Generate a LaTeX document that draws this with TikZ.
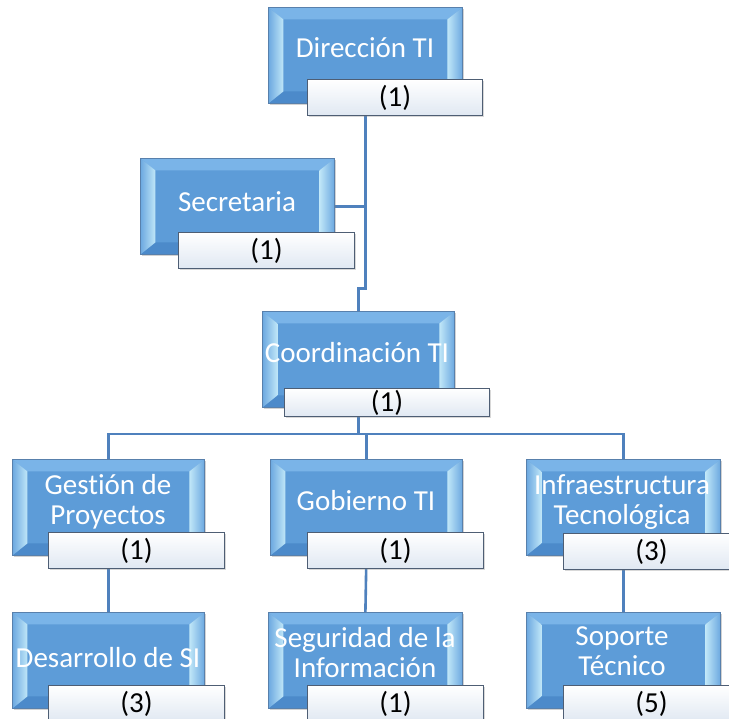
\documentclass[tikz,border=0pt]{standalone}
\usepackage{fontspec}
\setmainfont{Carlito}[Ligatures=NoCommon]
\usetikzlibrary{shadows}
\pgfdeclarelayer{bg}
\pgfsetlayers{bg,main}
\definecolor{bmid}{RGB}{93,156,216}
\definecolor{btop}{RGB}{122,180,232}
\definecolor{bbot}{RGB}{76,138,202}
\definecolor{blo}{RGB}{108,168,224}
\definecolor{bli}{RGB}{192,231,248}
\definecolor{bedge}{RGB}{88,128,172}
\definecolor{conncol}{RGB}{79,129,189}
\definecolor{subedge}{RGB}{78,94,116}
\definecolor{subbot}{RGB}{224,232,242}
\tikzset{
  bluebox/.style={rectangle, anchor=north west, inner sep=0pt,
    minimum width=194pt, minimum height=96pt, fill=bmid, draw=bedge, line width=0.8pt,
    drop shadow={shadow xshift=1.5pt, shadow yshift=-1.5pt, opacity=0.35},
    path picture={
      \path (path picture bounding box.north west) coordinate (pnw)
            (path picture bounding box.north east) coordinate (pne)
            (path picture bounding box.south west) coordinate (psw)
            (path picture bounding box.south east) coordinate (pse);
      \fill[btop] (pnw) -- (pne) -- ([shift={(-15pt,-12pt)}]pne) -- ([shift={(15pt,-12pt)}]pnw) -- cycle;
      \fill[bbot] (psw) -- (pse) -- ([shift={(-15pt,12pt)}]pse) -- ([shift={(15pt,12pt)}]psw) -- cycle;
      \shade[left color=blo, right color=bli] (pnw) -- ([shift={(15pt,-12pt)}]pnw) -- ([shift={(15pt,12pt)}]psw) -- (psw) -- cycle;
      \shade[left color=bli, right color=blo] (pne) -- ([shift={(-15pt,-12pt)}]pne) -- ([shift={(-15pt,12pt)}]pse) -- (pse) -- cycle;
    }},
  subbox/.style={rectangle, anchor=north west, inner sep=0pt,
    minimum width=176pt, minimum height=36pt, top color=white, bottom color=subbot,
    draw=subedge, line width=1.2pt, text=black,
    drop shadow={shadow xshift=1.5pt, shadow yshift=-1.5pt, opacity=0.3},
    font=\fontsize{29}{30}\selectfont},
  lbl/.style={text=white, inner sep=0pt, align=center, font=\fontsize{29}{30}\selectfont},
  conn/.style={draw=conncol, line width=2.6pt}
}
\begin{document}
\begin{tikzpicture}[x=1pt,y=-1pt]
\useasboundingbox (0,0) rectangle (729,719);
\clip (0,0) rectangle (729,719);
% boxes
\node[bluebox] (dir) at (268,7) {};
\node[bluebox] (sec) at (140,158) {};
\node[bluebox, minimum width=192pt] (coord) at (262,311) {};
\node[bluebox, minimum width=192pt] (ges) at (12,459) {};
\node[bluebox, minimum width=192pt] (gob) at (270,459) {};
\node[bluebox] (inf) at (526,459) {};
\node[bluebox, minimum width=192pt] (des) at (12,612) {};
\node[bluebox] (seg) at (268,612) {};
\node[bluebox] (sop) at (526,612) {};
\coordinate (busy) at (0,434);
% connectors
\begin{pgfonlayer}{bg}
\fill[white] (0,0) rectangle (729,719);
\draw[conn] (dir.south) -- ++(0,185) -| (coord.north);
\draw[conn] (sec.east) -- (sec.east -| dir.south);
\draw[conn] (coord.south) -- (coord.south |- busy);
\draw[conn] (ges.north) -- (ges.north |- busy) -- (inf.north |- busy) -- (inf.north);
\draw[conn] (gob.north) -- (gob.north |- busy);
\draw[conn] (ges.south) -- (des.north);
\draw[conn] (gob.south) -- (seg.north);
\draw[conn] (inf.south) -- (sop.north);
\end{pgfonlayer}
% labels
\node[lbl, anchor=base] (dir-t) at (365,58) {Dirección TI};
\node[lbl, anchor=base] (sec-t) at (237,212) {Secretaria};
\node[lbl, anchor=base] (coord-t) at (357,363) {Coordinación TI};
\node[lbl, anchor=base] (ges-t) at (108,524) {Gestión de\\Proyectos};
\node[lbl, anchor=base] (gob-t) at (366,511) {Gobierno TI};
\node[lbl, anchor=base] (inf-t) at (622,524) {Infraestructura\\Tecnológica};
\node[lbl, anchor=base] (des-t) at (108,667) {Desarrollo de SI};
\node[lbl, anchor=base] (seg-t) at (365,677) {Seguridad de la\\Información};
\node[lbl, anchor=base] (sop-t) at (622,675) {Soporte\\Técnico};
% count boxes
\node[subbox, minimum width=175pt] (dirn) at (307,79) {(1)};
\node[subbox] (secn) at (178,232) {(1)};
\node[subbox, minimum width=205pt, minimum height=28pt] (coordn) at (284,388) {(1)};
\node[subbox] (gesn) at (48,532) {(1)};
\node[subbox] (gobn) at (307,532) {(1)};
\node[subbox] (infn) at (563,533) {(3)};
\node[subbox] (desn) at (48,685) {(3)};
\node[subbox] (segn) at (307,685) {(1)};
\node[subbox] (sopn) at (563,685) {(5)};
\end{tikzpicture}
\end{document}
